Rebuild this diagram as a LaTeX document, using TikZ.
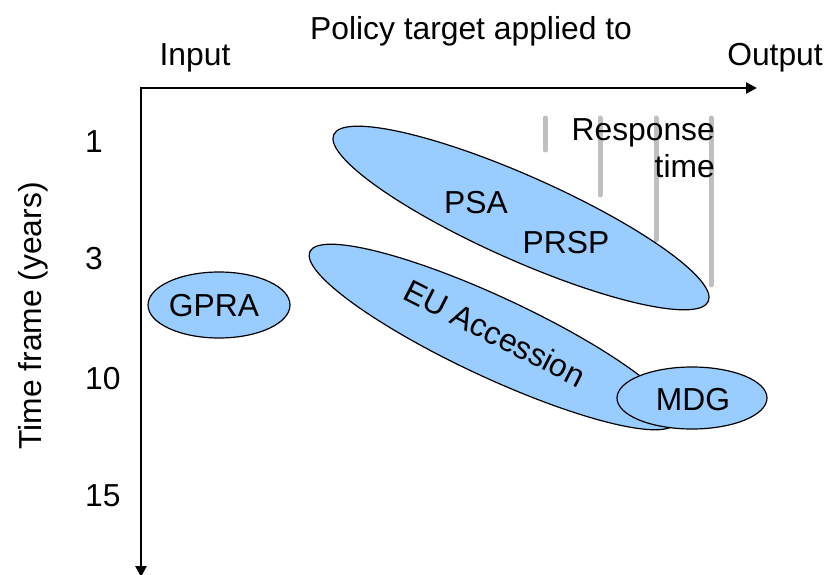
\documentclass[tikz,border=0pt]{standalone}
\usepackage{fontspec}
\setmainfont{Liberation Sans}
\usetikzlibrary{arrows.meta}
\definecolor{blobblue}{HTML}{99CCFF}
\definecolor{respgray}{HTML}{BFBFBF}
\begin{document}
\begin{tikzpicture}[x=1pt, y=-1pt,
    txt/.style={font=\fontsize{31.8}{36}\selectfont, inner sep=0pt},
    blob/.style={draw, line width=1.2pt, fill=blobblue, shape=ellipse},
    resp/.style={line width=5pt, color=respgray, line cap=round},
    axis/.style={line width=2.6pt, line join=miter, {Triangle[length=11pt,width=11pt]}-{Triangle[length=11pt,width=11pt]}}]
        \useasboundingbox (0,0) rectangle (827,575);
        \def\top{118}

        % axes
        \coordinate (origin) at (141,88);
        \coordinate (xend) at (757,88);
        \coordinate (yend) at (141,577);
        \draw[axis] (xend) -- (origin) -- (yend);

        \node[txt, anchor=base] (title) at (471,40) {Policy target applied to};
        \node[txt, anchor=base] (input) at (195,66) {Input};
        \node[txt, anchor=base] (output) at (775,66) {Output};
        \node[txt, rotate=90] (tframe) at (33,316) {Time frame (years)};
        \node[txt, anchor=base west] (t1) at (85,153) {1};
        \node[txt, anchor=base west] (t3) at (85,269) {3};
        \node[txt, anchor=base west] (t10) at (85,389) {10};
        \node[txt, anchor=base west] (t15) at (85,506) {15};

        % response time bars
        \draw[resp] (545,\top) -- ++(0,32);
        \draw[resp] (600,\top) -- ++(0,77);
        \draw[resp] (656,\top) -- ++(0,122);
        \draw[resp] (711,\top) -- ++(0,167);
        \node[txt, anchor=base east] (response) at (715,140) {Response};
        \node[txt, anchor=base east] (rtime) at (715,177) {time};

        % policy ellipses
        \filldraw[blob, rotate around={-24:(521,218)}] (521,218) ellipse [x radius=205, y radius=42];
        \node[txt, anchor=base] (psa) at (476,213) {PSA};
        \node[txt, anchor=base] (prsp) at (566,253) {PRSP};

        \filldraw[blob, rotate around={-25:(493,337)}] (493,337) ellipse [x radius=202, y radius=40];
        \node[txt, rotate=-27] (eu) at (495,333) {EU Accession};

        \filldraw[blob] (219,305) ellipse [x radius=71, y radius=33];
        \node[txt, anchor=base] (gpra) at (214,316) {GPRA};

        \filldraw[blob] (692,398) ellipse [x radius=75, y radius=31];
        \node[txt, anchor=base] (mdg) at (693,410) {MDG};
\end{tikzpicture}
\end{document}
